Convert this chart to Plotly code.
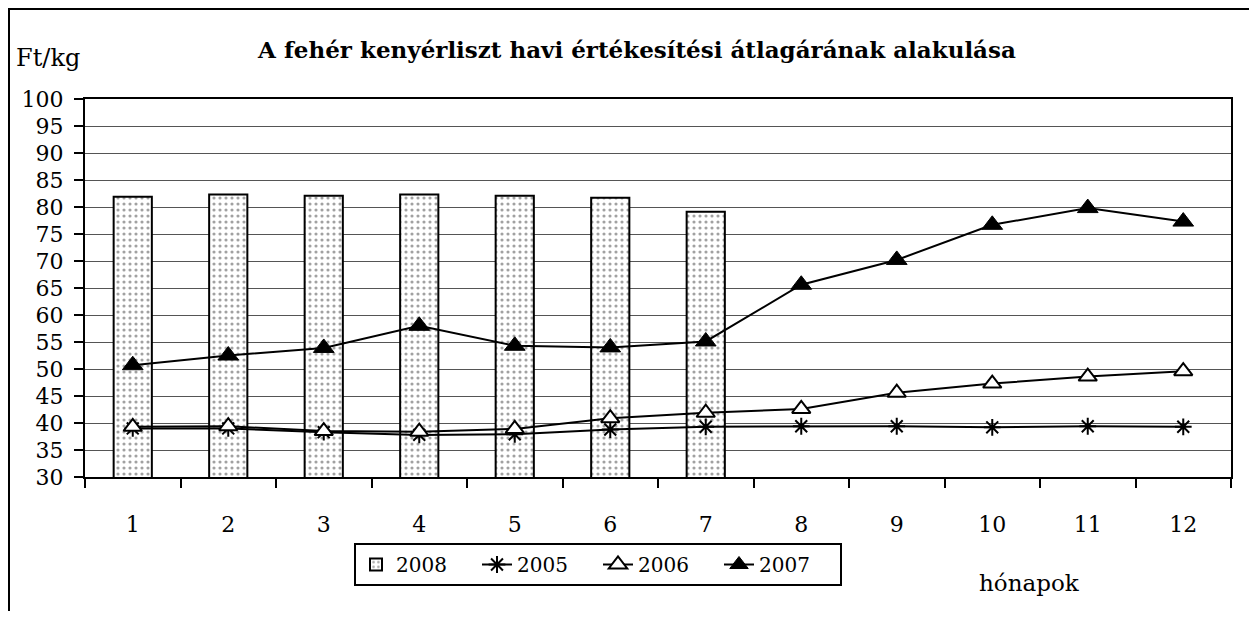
import plotly.graph_objects as go

months = [str(i) for i in range(1, 13)]
y2008 = [81.9, 82.3, 82.1, 82.3, 82.1, 81.7, 79.1]
y2005 = [39.0, 39.0, 38.3, 37.8, 37.9, 38.8, 39.3, 39.4, 39.4, 39.2, 39.4, 39.3]
y2006 = [39.3, 39.4, 38.5, 38.4, 38.9, 40.9, 41.9, 42.6, 45.6, 47.3, 48.6, 49.6]
y2007 = [50.7, 52.5, 53.9, 58.0, 54.3, 54.0, 55.1, 65.6, 70.2, 76.7, 79.8, 77.3]
yticks = list(range(30, 101, 5))

FONT = "DejaVu Serif"
OFF = 8  # default page body margin

W, H = 1257 - 2 * OFF, 619 - 2 * OFF
L, T = 85 - OFF, 99 - OFF
R = W - (1231 - OFF)
B = H - (477 - OFF)
PW, PH = W - L - R, H - T - B


def px(xp):
    return (xp - 85) / PW


def py(yp):
    return (477 - yp) / PH


fig = go.Figure()
fig.add_trace(go.Bar(
    x=months[:len(y2008)], y=y2008, name="2008",
    marker=dict(color="white", line=dict(color="black", width=2),
                pattern=dict(shape=".", fgcolor="#444444", bgcolor="white", size=6, solidity=0.22)),
))
fig.add_trace(go.Scatter(
    x=months, y=y2005, name="2005", mode="lines+markers",
    line=dict(color="black", width=2),
    marker=dict(symbol="asterisk-open", size=14, color="black", line=dict(color="black", width=2)),
))
fig.add_trace(go.Scatter(
    x=months, y=y2006, name="2006", mode="lines+markers",
    line=dict(color="black", width=2),
    marker=dict(symbol="triangle-up", size=16, color="white", line=dict(color="black", width=2)),
))
fig.add_trace(go.Scatter(
    x=months, y=y2007, name="2007", mode="lines+markers",
    line=dict(color="black", width=2),
    marker=dict(symbol="triangle-up", size=18, color="black", line=dict(color="black", width=1)),
))

fig.update_layout(
    width=W, height=H,
    margin=dict(l=L, r=R, t=T, b=B, pad=0),
    paper_bgcolor="white", plot_bgcolor="white",
    font=dict(family=FONT, color="black", size=22),
    bargap=0.6,
    title=dict(text="<b>A fehér kenyérliszt havi értékesítési átlagárának alakulása</b>",
               x=(637 - OFF) / W, xanchor="center", xref="container",
               y=1 - (50 - OFF) / H, yanchor="middle", yref="container",
               font=dict(family=FONT, size=23, color="black")),
    showlegend=True,
    legend=dict(orientation="h", x=px(354), xanchor="left",
                y=py(543), yanchor="top",
                bordercolor="black", borderwidth=2, bgcolor="white",
                font=dict(family=FONT, size=20, color="black"),
                traceorder="normal", itemwidth=30,
                entrywidth=76, entrywidthmode="pixels"),
    xaxis=dict(type="category", categoryorder="array", categoryarray=months,
               range=[-0.5, 11.5],
               showline=True, linecolor="black", linewidth=2, mirror=True,
               ticks="outside", ticklen=9, tickwidth=2, tickcolor="black",
               tickson="boundaries", showgrid=False,
               tickfont=dict(family=FONT, size=22), ticklabelstandoff=27),
    yaxis=dict(range=[30, 100], tickmode="array", tickvals=yticks,
               ticktext=[str(v) for v in yticks],
               showline=True, linecolor="black", linewidth=2, mirror=True,
               ticks="outside", ticklen=9, tickwidth=2, tickcolor="black",
               showgrid=True, gridcolor="#555555", gridwidth=1,
               tickfont=dict(family=FONT, size=22), ticklabelstandoff=6,
               zeroline=False),
)

# outer frame of the chart (top and left edges visible)
fig.add_shape(type="rect", xref="paper", yref="paper",
              x0=px(9), x1=px(1400), y0=py(800), y1=py(9),
              line=dict(color="black", width=2), fillcolor="rgba(0,0,0,0)", layer="below")

fig.add_annotation(text="Ft/kg", xref="paper", yref="paper",
                   x=px(48), y=py(58), showarrow=False,
                   xanchor="center", yanchor="middle",
                   font=dict(family=FONT, size=24, color="black"))
fig.add_annotation(text="hónapok", xref="paper", yref="paper",
                   x=px(1029), y=py(583), showarrow=False,
                   xanchor="center", yanchor="middle",
                   font=dict(family=FONT, size=23, color="black"))

fig.write_html("out.html")
